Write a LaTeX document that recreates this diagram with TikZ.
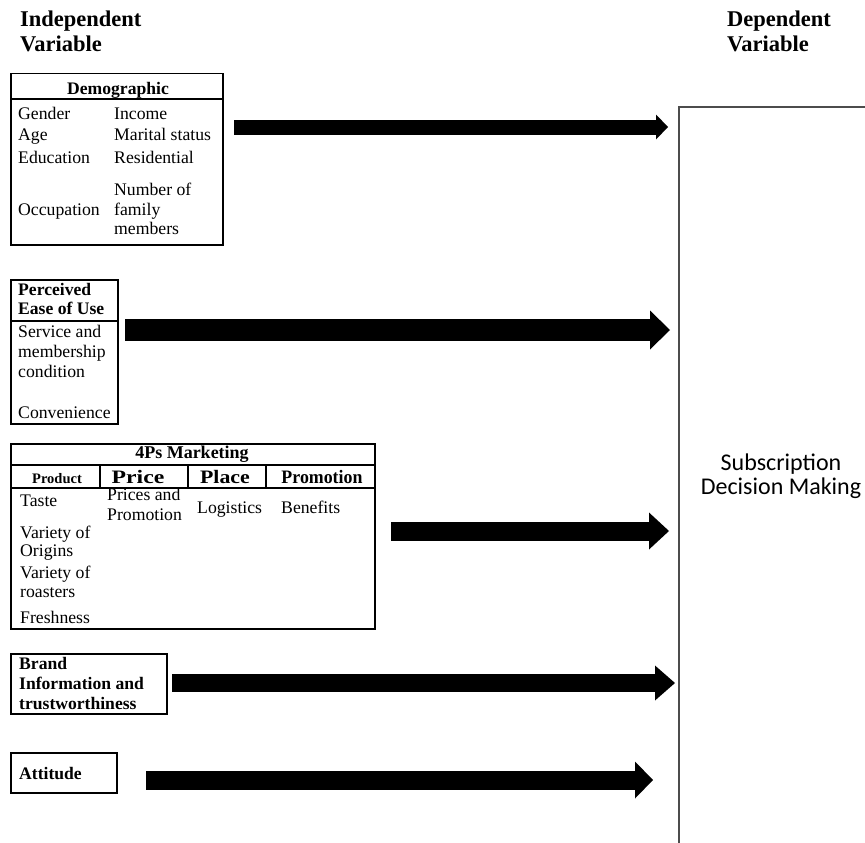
\documentclass[tikz,border=0pt]{standalone}
\usepackage{fontspec}
\setmainfont{Liberation Serif}
\newfontfamily\calibfont{Carlito}
\usetikzlibrary{arrows.meta}

\begin{document}
\begin{tikzpicture}[x=1pt,y=-1pt,
  box/.style={draw, line width=1.5pt, inner sep=0, anchor=north west},
  txt/.style={inner sep=0, anchor=base west, font=\fontsize{17.7}{20}\selectfont},
  btxt/.style={inner sep=0, anchor=base west, font=\fontsize{17.6}{20}\selectfont\bfseries},
  colhead/.style={inner sep=0, anchor=base, font=\fontsize{19}{20}\selectfont\bfseries},
  ttl/.style={inner sep=0, anchor=base west, font=\fontsize{22.5}{25}\selectfont\bfseries},
  bigarrow/.style n args={3}{line width=#1,
    -{Triangle[length=#2, width=#3, line width=0pt]}},
]
\useasboundingbox (0,0) rectangle (865,843);
\clip (0,0) rectangle (865,843);

% headings
\node[ttl] (ivA) at (20,27) {Independent};
\node[ttl] (ivB) at (20,52) {Variable};
\node[ttl] (dvA) at (727,27) {Dependent};
\node[ttl] (dvB) at (727,52) {Variable};

% dependent variable box (runs off the page to the right and bottom)
\node[draw=black!70, line width=2pt, inner sep=0, anchor=north west,
      minimum width=260pt, minimum height=800pt] (dv) at (678,106) {};
\node[inner sep=0, align=center, font=\calibfont\fontsize{24}{24}\selectfont]
  (dvtext) at (781,476) {Subscription\\Decision Making};

% Demographic
\node[box, minimum width=212pt, minimum height=171pt] (demo) at (10,73) {};
\draw[line width=1.2pt] (10,99) -- (222,99);
\node[btxt, anchor=base] (demoH) at (118,94) {Demographic};
\node[txt] (d1) at (18,119) {Gender};
\node[txt] (d2) at (18,140) {Age};
\node[txt] (d3) at (18,163) {Education};
\node[txt] (d4) at (18,215) {Occupation};
\node[txt] (d5) at (114,119) {Income};
\node[txt] (d6) at (114,140) {Marital status};
\node[txt] (d7) at (114,163) {Residential};
\node[txt] (d8) at (114,195) {Number of};
\node[txt] (d9) at (114,215) {family};
\node[txt] (d10) at (114,234) {members};

% Perceived Ease of Use
\node[box, minimum width=107pt, minimum height=144pt] (peou) at (10,279) {};
\draw[line width=1.2pt] (10,321) -- (117,321);
\node[btxt] (p1) at (18,295) {Perceived};
\node[btxt] (p2) at (18,314) {Ease of Use};
\node[txt] (p3) at (18,337) {Service and};
\node[txt] (p4) at (18,357) {membership};
\node[txt] (p5) at (18,377) {condition};
\node[txt] (p6) at (18,418) {Convenience};

% 4Ps Marketing
\node[box, line width=2pt, minimum width=364pt, minimum height=185pt] (mkt) at (10,443) {};
\draw[line width=2pt] (10,465) -- (374,465);
\draw[line width=2pt] (10,488) -- (374,488);
\draw[line width=2pt] (100,465) -- (100,488);
\draw[line width=2pt] (188,465) -- (188,488);
\draw[line width=1.5pt] (266,465) -- (266,488);
\node[inner sep=0, anchor=base, font=\fontsize{18}{20}\selectfont\bfseries] (mH) at (192,458) {4Ps Marketing};
\node[inner sep=0, anchor=base, font=\fontsize{14.5}{16}\selectfont\bfseries] (c1) at (57,483) {Product};
\node[colhead] (c2) at (138,483) {\scalebox{1.25}[1]{Price}};
\node[colhead] (c3) at (225,483) {\scalebox{1.15}[1]{Place}};
\node[colhead] (c4) at (322,483) {\scalebox{0.94}[1]{Promotion}};
\node[txt] (m1) at (20,506) {Taste};
\node[txt] (m2) at (20,538) {Variety of};
\node[txt] (m3) at (20,556) {Origins};
\node[txt] (m4) at (20,578) {Variety of};
\node[txt] (m5) at (20,597) {roasters};
\node[txt] (m6) at (20,623) {Freshness};
\node[txt] (m7) at (107,500) {Prices and};
\node[txt] (m8) at (107,520) {Promotion};
\node[txt] (m9) at (197,513) {Logistics};
\node[txt] (m10) at (281,513) {Benefits};

% Brand information
\node[box, minimum width=156pt, minimum height=60pt] (brand) at (10,653) {};
\node[btxt] (b1) at (19,669) {Brand};
\node[btxt] (b2) at (19,689) {Information and};
\node[btxt] (b3) at (19,709) {trustworthiness};

% Attitude
\node[box, minimum width=106pt, minimum height=40pt] (att) at (10,752) {};
\node[btxt] (a1) at (19,779) {Attitude};

% arrow ends
\coordinate (s1) at (234,127);  \coordinate (e1) at (668,127);
\coordinate (s2) at (125,330);  \coordinate (e2) at (670,330);
\coordinate (s3) at (391,531);  \coordinate (e3) at (669,531);
\coordinate (s4) at (172,683);  \coordinate (e4) at (675,683);
\coordinate (s5) at (146,780);  \coordinate (e5) at (653,780);

\draw[bigarrow={15pt}{12pt}{25pt}] (s1) -- (e1);
\draw[bigarrow={22pt}{20pt}{39pt}] (s2) -- (e2);
\draw[bigarrow={19pt}{20pt}{37pt}] (s3) -- (e3);
\draw[bigarrow={18pt}{20pt}{35pt}] (s4) -- (e4);
\draw[bigarrow={19pt}{18pt}{37pt}] (s5) -- (e5);
\end{tikzpicture}
\end{document}
